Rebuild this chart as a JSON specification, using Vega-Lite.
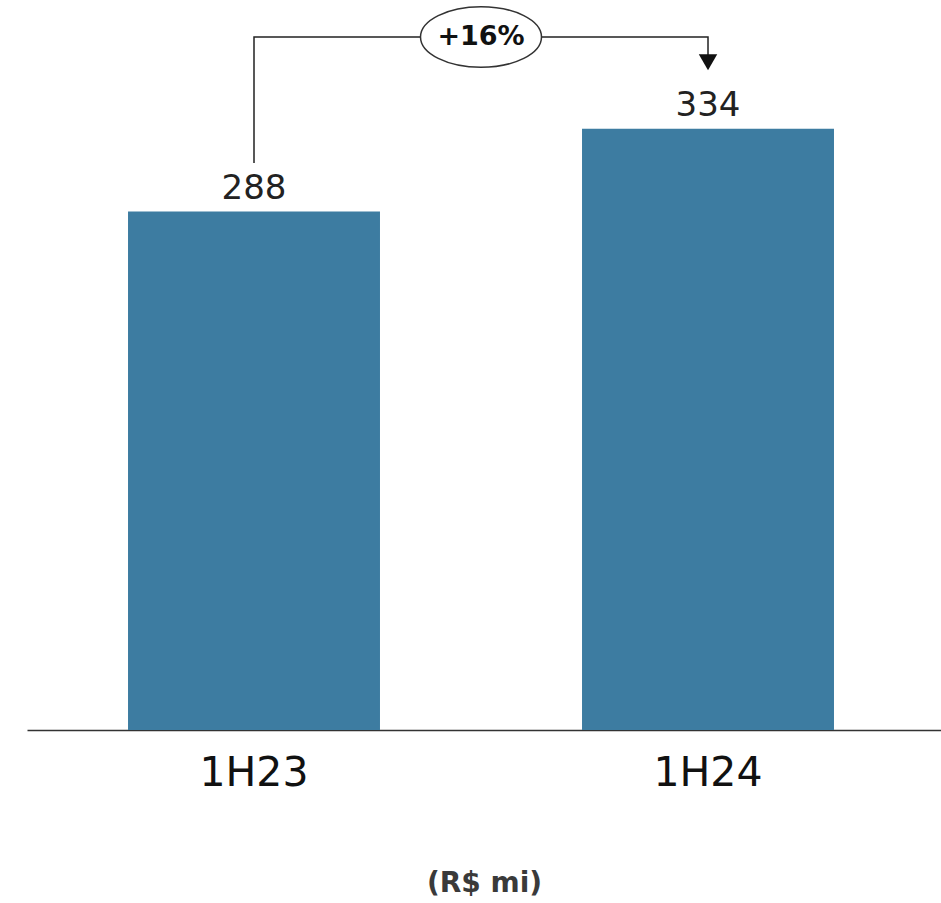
{
  "$schema": "https://vega.github.io/schema/vega-lite/v6.json",
  "width": 914,
  "height": 720,
  "autosize": {"type": "none"},
  "padding": {"left": 27, "top": 10, "right": 0, "bottom": 173},
  "background": "white",
  "config": {"view": {"stroke": null}},
  "datasets": {
    "bars": [
      {"period": "1H23", "value": 288},
      {"period": "1H24", "value": 334}
    ],
    "connector": [
      {"period": "1H23", "level": 315, "step": 1},
      {"period": "1H23", "level": 385, "step": 2},
      {"period": "1H24", "level": 385, "step": 3},
      {"period": "1H24", "level": 375, "step": 4}
    ],
    "arrow": [{"period": "1H24", "level": 371}],
    "growth": [{"period": "1H24", "level": 385, "label": "+16%"}]
  },
  "encoding": {
    "x": {
      "field": "period",
      "type": "nominal",
      "sort": null,
      "scale": {"domain": ["1H23", "1H24"], "paddingInner": 0, "paddingOuter": 0.0066, "align": 0},
      "axis": {
        "title": "(R$ mi)",
        "labelAngle": 0,
        "ticks": false,
        "domainColor": "#333333",
        "domainWidth": 1.5,
        "labelFont": "DejaVu Sans",
        "labelFontSize": 41,
        "labelColor": "#111111",
        "labelBaseline": "alphabetic",
        "labelPadding": 55,
        "titleFont": "DejaVu Sans",
        "titleFontWeight": "bold",
        "titleFontSize": 28,
        "titleColor": "#3a3a3a",
        "titlePadding": 76
      }
    }
  },
  "layer": [
    {
      "data": {"name": "bars"},
      "mark": {"type": "bar", "color": "#3D7CA1", "width": {"band": 0.555}},
      "encoding": {
        "y": {"field": "value", "type": "quantitative", "scale": {"domain": [0, 400], "nice": false, "zero": true}, "axis": null}
      }
    },
    {
      "data": {"name": "bars"},
      "mark": {"type": "text", "font": "DejaVu Sans", "fontSize": 34, "color": "#222222", "baseline": "alphabetic", "dy": -13},
      "encoding": {
        "y": {"field": "value", "type": "quantitative"},
        "text": {"field": "value", "type": "quantitative"}
      }
    },
    {
      "data": {"name": "connector"},
      "mark": {"type": "line", "color": "#222222", "strokeWidth": 1.5, "interpolate": "linear"},
      "encoding": {
        "y": {"field": "level", "type": "quantitative"},
        "order": {"field": "step", "type": "quantitative"}
      }
    },
    {
      "data": {"name": "arrow"},
      "mark": {"type": "point", "shape": "triangle-down", "filled": true, "color": "#111111", "size": 340, "opacity": 1},
      "encoding": {
        "y": {"field": "level", "type": "quantitative"}
      }
    },
    {
      "data": {"name": "growth"},
      "mark": {"type": "point", "shape": "M -1 0 A 1 0.5 0 1 1 1 0 A 1 0.5 0 1 1 -1 0 Z", "filled": false, "fill": "white", "fillOpacity": 1, "stroke": "#333333", "strokeWidth": 1.5, "size": 14641, "opacity": 1},
      "encoding": {
        "x": {"field": "period", "type": "nominal", "bandPosition": 0},
        "y": {"field": "level", "type": "quantitative"}
      }
    },
    {
      "data": {"name": "growth"},
      "mark": {"type": "text", "font": "DejaVu Sans", "fontWeight": "bold", "fontSize": 27, "color": "#111111", "baseline": "middle"},
      "encoding": {
        "x": {"field": "period", "type": "nominal", "bandPosition": 0},
        "y": {"field": "level", "type": "quantitative"},
        "text": {"field": "label", "type": "nominal"}
      }
    }
  ]
}
